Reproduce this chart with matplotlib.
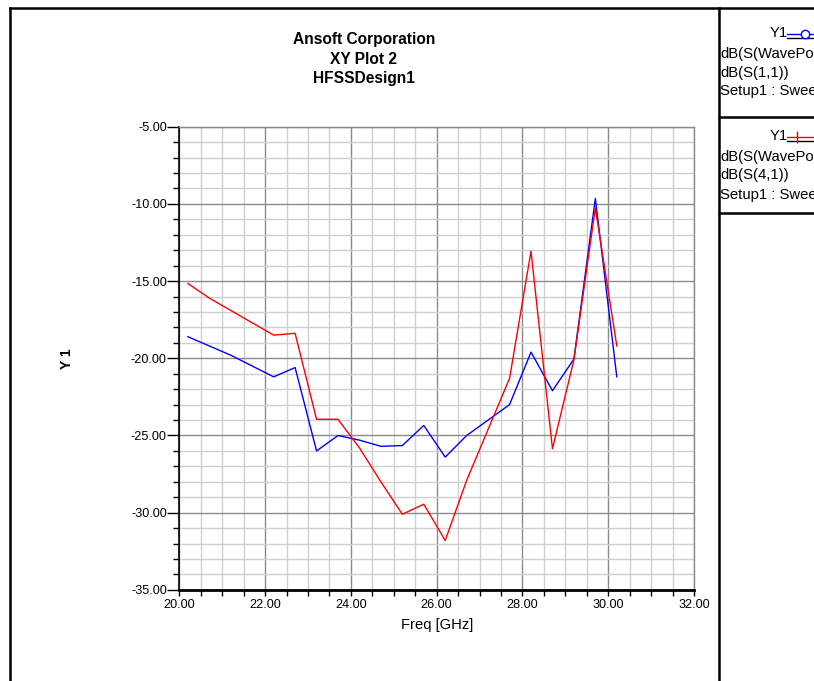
import matplotlib
matplotlib.use('Agg')
import matplotlib.pyplot as plt
from matplotlib.lines import Line2D
from matplotlib.ticker import MultipleLocator, FormatStrFormatter

plt.rcParams['font.family'] = ['Liberation Sans', 'DejaVu Sans']

# Frequency sweep points [GHz]
freq = [20.2, 20.7, 21.2, 21.7, 22.2, 22.7, 23.2, 23.7, 24.2, 24.7, 25.2,
        25.7, 26.2, 26.7, 27.2, 27.7, 28.2, 28.7, 29.2, 29.7, 30.2]
# dB(S(1,1))
s11 = [-18.6, -19.2, -19.8, -20.5, -21.2, -20.6, -26.0, -25.0, -25.3, -25.7, -25.65,
       -24.35, -26.4, -25.0, -24.0, -23.0, -19.6, -22.1, -20.05, -9.65, -21.2]
# dB(S(4,1))
s41 = [-15.15, -16.1, -16.9, -17.7, -18.5, -18.38, -23.95, -23.95, -25.8, -28.0, -30.1,
       -29.45, -31.8, -27.9, -24.6, -21.3, -13.06, -25.86, -20.1, -10.26, -19.2]

W, H = 814, 681
fig = plt.figure(figsize=(W / 100, H / 100), dpi=100)
fig.patch.set_facecolor('white')

def fx(px):
    return px / W

def fy(py):
    return 1 - py / H

# plot area in pixels
x0, x1, y0, y1 = 179.3, 694.0, 126.7, 589.9
ax = fig.add_axes([fx(x0), fy(y1), fx(x1) - fx(x0), fy(y0) - fy(y1)])

ax.plot(freq, s11, color='#0000ff', linewidth=1.0)
ax.plot(freq, s41, color='#ff0000', linewidth=1.0)

ax.set_xlim(20, 32)
ax.set_ylim(-35, -5)
ax.xaxis.set_major_locator(MultipleLocator(2))
ax.xaxis.set_minor_locator(MultipleLocator(0.5))
ax.yaxis.set_major_locator(MultipleLocator(5))
ax.yaxis.set_minor_locator(MultipleLocator(1))
ax.xaxis.set_major_formatter(FormatStrFormatter('%.2f'))
ax.yaxis.set_major_formatter(FormatStrFormatter('%.2f'))

ax.grid(which='minor', color='#cfcfcf', linewidth=1.0)
ax.grid(which='major', color='#8a8a8a', linewidth=1.0)
ax.set_axisbelow(True)

for side in ['top', 'right']:
    ax.spines[side].set_color('#8a8a8a')
    ax.spines[side].set_linewidth(1.0)
ax.spines['left'].set_color('black')
ax.spines['left'].set_linewidth(1.2)
ax.spines['bottom'].set_color('black')
ax.spines['bottom'].set_linewidth(2.0)

ax.tick_params(which='major', direction='out', length=9, width=1, color='black',
               labelsize=9.1, pad=0)
ax.tick_params(which='minor', direction='out', length=4.5, width=1, color='black')
ax.tick_params(axis='x', which='major', length=4.5, pad=2)

ax.set_xlabel('Freq [GHz]', fontsize=10.6, labelpad=5)
ax.set_ylabel('Y 1', fontsize=10, fontweight='bold', labelpad=0)
ax.yaxis.set_label_coords((fx(74) - fx(x0)) / (fx(x1) - fx(x0)), 0.5)

# title block, centred in the area left of the legend panel
for yy, line in zip([39.5, 59, 79], ['Ansoft Corporation', 'XY Plot 2', 'HFSSDesign1']):
    fig.text(fx(364), fy(yy), line, ha='center', va='center',
             fontsize=11.2, fontweight='bold')

# outer frame and legend panel separators
frame = [
    ([fx(9.5), fx(9.5)], [fy(8), 0]),
    ([fx(9.5), 1], [fy(8), fy(8)]),
    ([fx(718.5), fx(718.5)], [fy(8), 0]),
    ([fx(718.5), 1], [fy(117), fy(117)]),
    ([fx(718.5), 1], [fy(213), fy(213)]),
]
for xs, ys in frame:
    fig.add_artist(Line2D(xs, ys, color='black', linewidth=1.8,
                          transform=fig.transFigure))

# legend entries
entries = [
    (33, '#0000ff', 'o', 'dB(S(1,1))'),
    (136, '#ff0000', '|', 'dB(S(4,1))'),
]
for ytop, col, mk, name in entries:
    fig.text(fx(788), fy(ytop), 'Y1', ha='right', va='center', fontsize=10.7)
    fig.add_artist(Line2D([fx(787), 1], [fy(ytop + 1), fy(ytop + 1)], color=col,
                          linewidth=1.0, transform=fig.transFigure))
    fig.add_artist(Line2D([fx(787), 1], [fy(ytop + 5), fy(ytop + 5)], color='black',
                          linewidth=1.0, transform=fig.transFigure))
    if mk == 'o':
        fig.add_artist(Line2D([fx(805)], [fy(ytop + 1)], color=col, marker='o',
                              markersize=6, markerfacecolor='white', markeredgewidth=1,
                              linestyle='none', transform=fig.transFigure))
    else:
        fig.add_artist(Line2D([fx(797)], [fy(ytop + 1)], color=col, marker='|',
                              markersize=9, markeredgewidth=1,
                              linestyle='none', transform=fig.transFigure))
    fig.text(fx(720), fy(ytop + 21), 'dB(S(WavePort1,WavePort1))', ha='left', va='center',
             fontsize=10.7)
    fig.text(fx(720), fy(ytop + 39.5), name, ha='left', va='center', fontsize=10.7)
    fig.text(fx(720), fy(ytop + 58.5), 'Setup1 : Sweep1', ha='left', va='center',
             fontsize=10.7)

fig.savefig('out.png', dpi=100)
